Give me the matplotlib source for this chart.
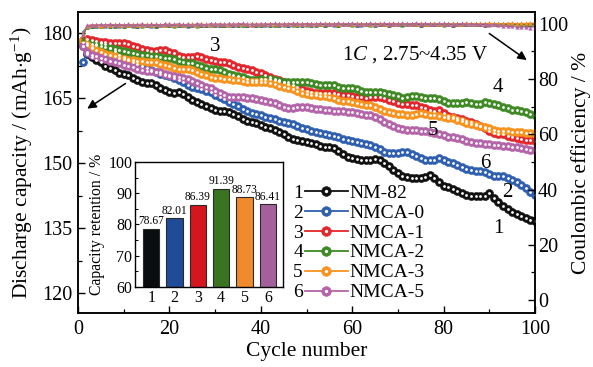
import numpy as np
import matplotlib
matplotlib.use("Agg")
import matplotlib.pyplot as plt
from matplotlib.lines import Line2D
from matplotlib.ticker import MultipleLocator
from matplotlib.legend_handler import HandlerTuple

plt.rcParams["font.family"] = "Liberation Serif"
plt.rcParams["mathtext.fontset"] = "custom"
plt.rcParams["mathtext.rm"] = "Liberation Serif"
plt.rcParams["mathtext.it"] = "Liberation Serif:italic"
plt.rcParams["xtick.direction"] = "in"
plt.rcParams["ytick.direction"] = "in"

# muestras
nombres = ["NM-82", "NMCA-0", "NMCA-1", "NMCA-2", "NMCA-3", "NMCA-5"]
numeros = ["1", "2", "3", "4", "5", "6"]
colores = ["#111111", "#2f5fb0", "#e3262b", "#3f8a25", "#f7931e", "#b464a8"]
colores_barra = ["#0a0d0d", "#1f4b98", "#d4161f", "#3a7420", "#ef8b2c", "#a4609b"]

# capacidad de descarga (mAh/g), ciclos 1..100
cap_nm82 = [
    177.0, 175.2, 174.5, 173.8, 173.2, 172.5, 171.9, 171.4, 170.8, 170.6,
    170.2, 169.6, 169.1, 168.7, 168.5, 168.4, 168.0, 167.4, 166.8, 166.4,
    166.2, 166.3, 165.9, 165.3, 164.5, 164.1, 163.7, 163.1, 162.6, 162.2,
    162.0, 161.9, 161.7, 161.4, 160.8, 160.2, 159.7, 159.5, 159.2, 158.8,
    158.4, 158.0, 157.7, 157.2, 156.6, 156.0, 155.6, 155.3, 155.0, 154.8,
    154.6, 154.3, 154.0, 153.8, 153.7, 153.4, 152.8, 152.1, 151.5, 151.2,
    151.0, 150.8, 150.6, 150.7, 150.9, 150.6, 150.1, 149.4, 148.5, 147.7,
    147.1, 146.8, 146.6, 146.5, 146.5, 146.8, 147.2, 146.6, 145.6, 144.8,
    144.4, 144.0, 143.5, 143.0, 142.6, 142.4, 142.3, 142.3, 142.5, 143.0,
    142.0, 140.9, 140.0, 139.3, 138.7, 138.2, 137.7, 137.3, 136.9, 136.6,
]
cap_nmca0 = [
    173.3, 175.4, 176.7, 177.4, 177.7, 177.4, 176.6, 175.8, 175.0, 174.4,
    173.9, 173.4, 172.9, 172.4, 171.9, 171.4, 171.0, 170.6, 170.3, 170.0,
    169.6, 169.2, 168.7, 168.1, 167.6, 167.3, 167.0, 166.7, 166.3, 165.8,
    165.3, 164.7, 164.1, 163.6, 163.1, 162.5, 162.0, 161.6, 161.3, 161.0,
    160.7, 160.4, 160.1, 159.8, 159.5, 159.2, 158.9, 158.5, 158.1, 157.8,
    157.5, 157.2, 156.9, 156.7, 156.5, 156.2, 155.9, 155.6, 155.3, 155.1,
    154.9, 154.6, 154.4, 154.2, 153.8, 153.2, 152.6, 152.3, 152.3, 152.4,
    152.6, 152.5, 152.0, 151.6, 151.2, 150.8, 150.6, 150.7, 151.1, 150.6,
    150.2, 149.9, 149.6, 149.1, 148.6, 148.3, 148.2, 148.2, 147.9, 147.4,
    147.1, 147.0, 147.0, 146.6, 146.1, 145.6, 145.0, 144.2, 143.4, 142.7,
]
cap_nmca1 = [
    178.5, 178.6, 178.3, 178.1, 178.0, 177.9, 177.8, 177.7, 177.7, 177.6,
    177.4, 177.1, 176.7, 176.3, 176.0, 175.8, 175.8, 176.0, 176.0, 175.7,
    175.3, 174.8, 174.5, 174.4, 174.5, 174.6, 174.4, 174.1, 173.8, 173.5,
    173.3, 173.2, 173.0, 172.6, 172.2, 171.9, 171.7, 171.5, 171.1, 170.7,
    170.3, 169.9, 169.5, 169.1, 168.7, 168.3, 167.9, 167.5, 167.1, 166.7,
    166.4, 166.2, 166.1, 166.1, 166.2, 166.1, 165.9, 165.7, 165.6, 165.5,
    165.3, 165.2, 165.1, 165.2, 165.3, 165.2, 165.0, 164.6, 164.2, 163.9,
    163.7, 163.6, 163.5, 163.3, 163.0, 162.6, 162.2, 162.0, 162.2, 161.5,
    160.8, 160.6, 160.5, 160.2, 159.8, 159.4, 159.0, 158.6, 158.0, 157.4,
    156.9, 156.7, 156.6, 156.3, 155.9, 155.7, 155.6, 155.4, 155.3, 155.2,
]
cap_nmca2 = [
    178.0, 177.8, 177.5, 177.2, 176.9, 176.7, 176.5, 176.3, 176.1, 175.9,
    175.6, 175.4, 175.2, 175.0, 174.9, 174.8, 174.6, 174.4, 174.3, 174.2,
    173.9, 173.5, 173.2, 173.1, 173.0, 172.7, 172.3, 171.9, 171.7, 171.6,
    171.4, 171.0, 170.6, 170.3, 170.1, 169.8, 169.4, 169.1, 169.1, 169.4,
    169.5, 169.4, 169.2, 168.9, 168.7, 168.6, 168.6, 168.7, 168.8, 168.7,
    168.5, 168.3, 168.1, 168.0, 168.0, 167.9, 167.6, 167.4, 167.3, 167.2,
    167.0, 166.7, 166.5, 166.4, 166.5, 166.4, 166.2, 166.0, 165.7, 165.4,
    165.1, 165.2, 165.5, 165.4, 165.2, 165.0, 165.0, 165.1, 164.8, 164.3,
    163.9, 163.8, 163.8, 163.9, 164.0, 163.8, 163.6, 163.7, 164.0, 163.9,
    163.6, 163.3, 163.0, 162.6, 162.3, 162.2, 162.0, 161.7, 161.4, 161.1,
]
cap_nmca3 = [
    178.3, 177.2, 176.6, 176.1, 175.6, 175.2, 174.9, 174.6, 174.3, 174.0,
    173.8, 173.7, 173.6, 173.5, 173.4, 173.3, 173.2, 172.9, 172.6, 172.3,
    172.0, 171.8, 171.8, 171.7, 171.4, 171.0, 170.6, 170.2, 169.9, 169.7,
    169.6, 169.5, 169.3, 169.2, 169.1, 168.9, 168.8, 168.7, 168.8, 168.8,
    168.7, 168.5, 168.2, 167.8, 167.5, 167.3, 167.0, 166.6, 166.2, 165.9,
    165.7, 165.6, 165.5, 165.4, 165.2, 164.9, 164.6, 164.4, 164.2, 164.1,
    163.9, 163.7, 163.5, 163.4, 163.0, 162.5, 162.0, 161.7, 161.5, 161.4,
    161.3, 161.2, 161.2, 161.4, 161.5, 161.3, 161.1, 161.0, 160.9, 160.7,
    160.5, 160.3, 160.0, 159.7, 159.3, 159.0, 158.8, 158.6, 158.3, 158.0,
    157.7, 157.5, 157.4, 157.3, 157.2, 157.2, 157.1, 157.0, 156.9, 156.9,
]
cap_nmca5 = [
    177.0, 175.6, 175.0, 174.6, 174.3, 173.9, 173.6, 173.3, 173.0, 172.7,
    172.4, 172.1, 171.8, 171.5, 171.3, 171.2, 171.1, 170.9, 170.6, 170.3,
    170.0, 169.8, 169.6, 169.4, 169.0, 168.5, 168.0, 167.6, 167.2, 166.7,
    166.1, 165.6, 165.3, 165.2, 165.2, 165.2, 165.1, 164.9, 164.8, 164.6,
    164.4, 164.1, 163.8, 163.4, 163.0, 162.8, 162.8, 162.9, 163.0, 162.9,
    162.7, 162.5, 162.4, 162.3, 162.2, 162.1, 162.0, 161.9, 161.8, 161.7,
    161.5, 161.3, 161.2, 161.1, 160.7, 160.1, 159.5, 159.0, 158.6, 158.2,
    157.8, 157.6, 157.6, 157.7, 157.5, 157.3, 157.2, 157.0, 156.7, 156.4,
    156.1, 156.0, 155.8, 155.5, 155.2, 154.9, 154.7, 154.6, 154.5, 154.3,
    154.2, 154.1, 154.0, 153.9, 153.8, 153.7, 153.5, 153.3, 153.1, 153.0,
]

# eficiencia coulombica (%), ciclos 1..100
ce_nm82 = [
    95.6, 99.2, 99.4, 99.5, 99.3, 99.6, 99.4, 99.5, 99.7, 99.4,
    99.6, 99.5, 99.3, 99.6, 99.7, 99.5, 99.4, 99.6, 99.8, 99.5,
    99.6, 99.7, 99.5, 99.6, 99.8, 99.6, 99.5, 99.7, 99.9, 99.6,
    99.7, 99.5, 99.8, 99.6, 99.7, 99.9, 99.6, 99.8, 99.7, 99.5,
    99.8, 99.7, 99.9, 99.6, 99.8, 99.7, 99.9, 99.8, 99.6, 99.9,
    99.7, 99.8, 100.0, 99.7, 99.9, 99.8, 99.6, 99.9, 99.8, 100.0,
    99.7, 99.9, 99.8, 100.0, 99.7, 99.9, 99.8, 99.7, 100.0, 99.8,
    99.9, 100.1, 99.8, 99.9, 99.7, 100.0, 99.8, 99.9, 100.1, 99.8,
    99.9, 99.7, 100.0, 99.8, 99.9, 100.1, 99.8, 99.9, 99.7, 100.0,
    99.8, 99.9, 100.1, 99.8, 100.0, 99.7, 99.9, 99.8, 100.0, 99.9,
]
ce_nmca0 = [
    97.2, 99.0, 99.3, 99.2, 99.5, 99.3, 99.6, 99.4, 99.3, 99.6,
    99.5, 99.7, 99.4, 99.5, 99.6, 99.4, 99.7, 99.5, 99.6, 99.8,
    99.5, 99.6, 99.7, 99.4, 99.6, 99.8, 99.5, 99.7, 99.6, 99.8,
    99.6, 99.9, 99.7, 99.5, 99.8, 99.6, 99.7, 99.9, 99.7, 99.8,
    99.6, 99.8, 99.7, 99.9, 99.8, 99.6, 99.9, 99.7, 99.8, 100.0,
    99.8, 99.7, 99.9, 99.8, 100.0, 99.7, 99.9, 99.8, 100.1, 99.8,
    99.9, 99.7, 100.0, 99.9, 99.8, 100.1, 99.9, 99.8, 100.0, 99.9,
    99.8, 100.0, 99.9, 100.1, 99.8, 99.9, 100.0, 99.8, 99.9, 100.1,
    99.8, 100.0, 99.9, 99.8, 100.1, 99.9, 100.0, 99.8, 99.9, 100.1,
    99.9, 100.0, 99.8, 99.9, 100.1, 99.9, 100.0, 99.8, 99.9, 100.0,
]
ce_nmca1 = [
    95.0, 99.4, 99.6, 99.5, 99.7, 99.5, 99.8, 99.6, 99.7, 99.5,
    99.8, 99.6, 99.7, 99.9, 99.6, 99.8, 99.7, 99.5, 99.8, 99.9,
    99.7, 99.8, 99.6, 99.9, 99.7, 100.0, 99.8, 99.7, 99.9, 99.8,
    100.0, 99.7, 99.9, 99.8, 100.1, 99.8, 99.9, 99.7, 100.0, 99.9,
    99.8, 100.1, 99.9, 99.8, 100.0, 99.9, 100.2, 99.8, 99.9, 100.1,
    99.9, 100.0, 99.8, 100.1, 99.9, 100.0, 100.2, 99.9, 100.0, 99.8,
    100.1, 99.9, 100.0, 100.2, 99.9, 100.1, 99.8, 100.0, 100.2, 99.9,
    100.0, 100.1, 99.9, 100.2, 100.0, 99.9, 100.1, 100.0, 99.8, 100.2,
    100.0, 99.9, 100.1, 100.0, 100.2, 99.9, 100.1, 100.0, 99.9, 100.2,
    100.0, 100.1, 99.9, 100.0, 100.2, 100.0, 99.9, 100.1, 100.0, 99.9,
]
ce_nmca2 = [
    94.6, 98.9, 99.2, 99.4, 99.3, 99.5, 99.2, 99.4, 99.6, 99.3,
    99.5, 99.4, 99.6, 99.3, 99.5, 99.7, 99.4, 99.6, 99.5, 99.7,
    99.4, 99.6, 99.5, 99.7, 99.6, 99.4, 99.7, 99.5, 99.6, 99.8,
    99.5, 99.7, 99.6, 99.8, 99.5, 99.7, 99.6, 99.8, 99.7, 99.5,
    99.8, 99.6, 99.7, 99.9, 99.6, 99.8, 99.7, 99.6, 99.9, 99.7,
    99.8, 99.6, 99.9, 99.7, 99.8, 100.0, 99.7, 99.9, 99.8, 99.7,
    100.0, 99.8, 99.9, 99.7, 100.0, 99.8, 99.9, 100.1, 99.8, 99.9,
    99.7, 100.0, 99.9, 99.8, 100.1, 99.9, 99.8, 100.0, 99.9, 99.7,
    100.0, 99.9, 99.8, 100.1, 99.9, 100.0, 99.8, 99.9, 100.1, 99.9,
    99.8, 100.0, 99.9, 100.1, 99.8, 99.9, 100.0, 99.8, 99.9, 99.8,
]
ce_nmca3 = [
    96.5, 99.3, 99.5, 99.7, 99.4, 99.6, 99.5, 99.8, 99.6, 99.7,
    99.5, 99.8, 99.6, 99.7, 99.9, 99.6, 99.8, 99.7, 99.6, 99.9,
    99.7, 99.8, 99.6, 99.9, 99.8, 99.7, 100.0, 99.8, 99.7, 99.9,
    99.8, 100.0, 99.7, 99.9, 99.8, 100.1, 99.8, 99.9, 100.0, 99.8,
    99.9, 100.1, 99.8, 100.0, 99.9, 99.8, 100.1, 99.9, 100.0, 99.8,
    100.1, 99.9, 100.0, 100.2, 99.9, 100.0, 99.8, 100.1, 100.0, 99.9,
    100.2, 100.0, 99.9, 100.1, 100.0, 100.2, 99.9, 100.1, 100.0, 99.9,
    100.2, 100.1, 100.0, 99.9, 100.2, 100.0, 100.1, 100.3, 100.0, 100.1,
    99.9, 100.2, 100.1, 100.0, 100.3, 100.1, 100.0, 100.2, 100.1, 100.3,
    100.0, 100.2, 100.1, 100.3, 100.2, 100.0, 100.3, 100.2, 100.4, 100.3,
]
ce_nmca5 = [
    96.0, 99.5, 99.7, 99.6, 99.8, 99.6, 99.9, 99.7, 99.8, 99.6,
    99.9, 99.7, 99.8, 100.0, 99.7, 99.9, 99.8, 99.7, 100.0, 99.8,
    99.9, 100.1, 99.8, 99.9, 99.7, 100.0, 99.9, 99.8, 100.1, 99.9,
    100.0, 99.8, 100.1, 99.9, 100.0, 100.2, 99.9, 100.0, 99.8, 100.1,
    100.0, 99.9, 100.2, 100.0, 99.9, 100.1, 100.0, 100.2, 99.9, 100.0,
    100.1, 99.9, 100.2, 100.0, 100.1, 99.9, 100.2, 100.0, 100.1, 100.3,
    100.0, 100.1, 99.9, 100.2, 100.0, 100.1, 100.3, 100.0, 100.1, 99.9,
    100.2, 100.0, 100.1, 100.3, 100.0, 100.2, 100.1, 99.9, 100.2, 100.0,
    100.1, 99.9, 100.0, 100.2, 99.9, 100.0, 99.8, 99.9, 100.0, 99.7,
    99.8, 99.6, 99.4, 99.3, 99.1, 98.9, 98.8, 98.7, 98.6, 98.6,
]

retencion = [78.67, 82.01, 86.39, 91.39, 88.73, 86.41]

capacidades = [cap_nm82, cap_nmca0, cap_nmca1, cap_nmca2, cap_nmca3, cap_nmca5]
eficiencias = [ce_nm82, ce_nmca0, ce_nmca1, ce_nmca2, ce_nmca3, ce_nmca5]

fig = plt.figure(figsize=(5.93, 3.67), dpi=100)
ax1 = fig.add_axes([78 / 593, 1 - 313 / 367, 457 / 593, 301 / 367])
ax2 = ax1.twinx()

# curvas de capacidad (esferas con brillo blanco)
for cap, col in zip(capacidades, colores):
    ciclos = np.arange(1, len(cap) + 1)
    ax1.plot(ciclos, cap, "-", color=col, lw=0.8, marker="o", ms=5.8,
             mfc=col, mec=col, mew=0.4, zorder=3)
    ax1.plot(ciclos, cap, "o", color="white", ms=2.0, mec="none", zorder=4)

# eficiencia coulombica
for ce, col in zip(eficiencias, colores):
    ciclos = np.arange(1, len(ce) + 1)
    ax2.plot(ciclos, ce, "-", color=col, lw=0.5, marker="^", ms=2.6,
             mfc=col, mec=col, mew=0.3)

ax1.set_xlim(0, 100)
ax1.set_ylim(115.4, 184.85)
ax2.set_ylim(-4.7, 104.3)

ax1.xaxis.set_major_locator(MultipleLocator(20))
ax1.xaxis.set_minor_locator(MultipleLocator(10))
ax1.yaxis.set_major_locator(MultipleLocator(15))
ax1.yaxis.set_minor_locator(MultipleLocator(7.5))
ax2.yaxis.set_major_locator(MultipleLocator(20))
ax2.yaxis.set_minor_locator(MultipleLocator(10))

for ax in (ax1, ax2):
    for s in ax.spines.values():
        s.set_linewidth(1.1)
    ax.tick_params(which="major", length=5, width=1.0, labelsize=14.5)
    ax.tick_params(which="minor", length=3, width=0.9)
ax1.tick_params(axis="x", pad=5)
ax1.tick_params(axis="y", pad=4, right=False)
ax2.tick_params(axis="y", pad=2)

ax1.set_xlabel("Cycle number", fontsize=15.5, labelpad=2)
ax1.set_ylabel(r"Discharge capacity / (mAh$\cdot$g$^{-1}$)", fontsize=15.5, labelpad=5)
ax2.set_ylabel("Coulombic efficiency / %", fontsize=15.5, labelpad=2)

# etiquetas numericas de las curvas
posiciones = [(91.9, 135.0), (93.9, 143.1), (30.0, 176.8),
              (91.9, 167.5), (77.7, 157.6), (89.1, 150.0)]
for num, (cx, cy) in zip(numeros, posiciones):
    ax1.text(cx, cy, num, fontsize=15, ha="center", va="center", zorder=6)

ax2.text(73.7, 88.8, r"1$C$ , 2.75~4.35 V", fontsize=15, ha="center", va="center")

ax1.annotate("", xy=(1.5, 162.2), xytext=(10.9, 168.7),
             arrowprops=dict(arrowstyle="-|>", color="k", lw=1.1, mutation_scale=13),
             zorder=6)
ax2.annotate("", xy=(98.7, 86.3), xytext=(89.5, 97.1),
             arrowprops=dict(arrowstyle="-|>", color="k", lw=1.1, mutation_scale=13))

# leyenda: linea + esfera con brillo (superpuestas)
manejadores = []
for col in colores:
    linea = Line2D([], [], color=col, lw=1.3, marker="o", ms=7, mfc=col, mec=col, mew=0.4)
    brillo = Line2D([], [], ls="none", marker="o", ms=2.4, mfc="white", mec="none")
    manejadores.append((linea, brillo))
leg = ax2.legend(manejadores, nombres, loc="upper left",
                 bbox_to_anchor=(305 / 593, 1 - 184 / 367), bbox_transform=fig.transFigure,
                 frameon=False, fontsize=14, handlelength=2.2, handletextpad=0.08,
                 labelspacing=0.12, borderpad=0, borderaxespad=0, numpoints=1,
                 handler_map={tuple: HandlerTuple(ndivide=1, pad=0)})

# numeros a la izquierda de la leyenda
fig.canvas.draw()
inv = fig.transFigure.inverted()
for num, txt in zip(numeros, leg.get_texts()):
    bb = txt.get_window_extent()
    ycen = inv.transform((0, (bb.y0 + bb.y1) / 2))[1]
    fig.text(303 / 593, ycen, num, fontsize=14, ha="right", va="center")

# grafico insertado: retencion de capacidad
axi = fig.add_axes([135 / 593, 1 - 287 / 367, 148 / 593, 125 / 367])
pos = np.arange(1, len(retencion) + 1)
axi.bar(pos, retencion, width=0.7, color=colores_barra, edgecolor="#2a2a2a", lw=0.8)
for p, v in zip(pos, retencion):
    axi.text(p, v + 0.5, "%.2f" % v, fontsize=8.3, ha="center", va="bottom")
axi.set_xlim(0.3, 6.65)
axi.set_ylim(60, 100)
axi.set_xticks(pos)
axi.set_xticklabels(numeros)
axi.yaxis.set_major_locator(MultipleLocator(10))
axi.yaxis.set_minor_locator(MultipleLocator(5))
axi.tick_params(which="major", length=3, width=0.8, labelsize=11.5, pad=2)
axi.tick_params(which="minor", length=2, width=0.7)
axi.tick_params(axis="x", length=0)
axi.set_ylabel("Capacity retention / %", fontsize=11.3, labelpad=2)
for s in axi.spines.values():
    s.set_linewidth(1.0)

fig.savefig("out.png", dpi=100)
